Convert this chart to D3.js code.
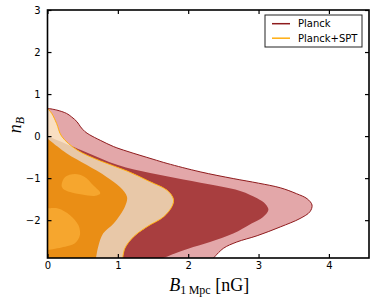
<!DOCTYPE html>
<html>
<head>
<meta charset="utf-8">
<script src="https://cdn.jsdelivr.net/npm/d3@7"></script>
<style>
  body { margin: 0; background: #fff; }
  svg { display: block; }
  .tick text { font-family: "DejaVu Sans", sans-serif; font-size: 10px; fill: #000; }
</style>
</head>
<body>
<svg id="chart" width="374" height="303"></svg>
<script>
// axis ranges and ticks
const xDomain = [0, 4.57];
const yDomain = [-2.9, 3];
const xTicks = [0, 1, 2, 3, 4];
const yTicks = [-2, -1, 0, 1, 2, 3];

// contour boundaries, [B, nB]
const planckOuter = [[0,0.66],[0.13,0.62],[0.27,0.54],[0.34,0.46],[0.42,0.34],[0.47,0.22],[0.53,0.11],[0.6,0.03],[0.75,-0.10],[0.94,-0.25],[1.13,-0.36],[1.5,-0.55],[1.70,-0.65],[2.17,-0.85],[2.64,-1.01],[3.0,-1.12],[3.31,-1.23],[3.54,-1.37],[3.69,-1.49],[3.76,-1.64],[3.73,-1.80],[3.59,-1.96],[3.31,-2.16],[2.98,-2.37],[2.69,-2.52],[2.50,-2.67],[2.36,-2.9]];
const planckInner = [[0,0.0],[0.5,-0.35],[1.0,-0.69],[1.46,-0.88],[1.93,-1.03],[2.41,-1.18],[2.75,-1.31],[2.98,-1.48],[3.10,-1.62],[3.14,-1.76],[3.06,-1.93],[2.90,-2.08],[2.64,-2.32],[2.31,-2.52],[2.0,-2.68],[1.8,-2.8],[1.65,-2.9]];
const sptOuter = [[0,0.66],[0.06,0.54],[0.13,0.30],[0.20,0.0],[0.42,-0.33],[0.75,-0.59],[1.13,-0.83],[1.45,-1.08],[1.70,-1.29],[1.79,-1.50],[1.77,-1.67],[1.65,-1.92],[1.41,-2.16],[1.22,-2.40],[1.10,-2.67],[1.07,-2.9]];
const sptInner = [[0,-0.06],[0.27,-0.41],[0.56,-0.69],[0.84,-0.97],[1.03,-1.21],[1.13,-1.44],[1.10,-1.68],[0.94,-2.08],[0.79,-2.32],[0.72,-2.64],[0.69,-2.9]];
const sptPeakUpper = [[0.20,-1.17],[0.25,-0.97],[0.39,-0.90],[0.53,-0.97],[0.65,-1.17],[0.75,-1.36],[0.68,-1.42],[0.49,-1.39],[0.32,-1.33],[0.22,-1.25]];
const sptPeakLower = [[0,-1.72],[0.15,-1.72],[0.32,-1.88],[0.44,-2.12],[0.46,-2.36],[0.39,-2.55],[0.20,-2.65],[0,-2.71]];

const series = ["Planck", "Planck+SPT"];
const lineColors = ["#8e1b1d", "#ffad10"];

const svg = d3.select("#chart");
const plot = { left: 47.5, right: 369, top: 10, bottom: 258 };

const x = d3.scaleLinear().domain(xDomain).range([plot.left, plot.right]);
const y = d3.scaleLinear().domain(yDomain).range([plot.bottom, plot.top]);

svg.append("clipPath").attr("id", "plotClip")
  .append("rect")
  .attr("x", plot.left).attr("y", plot.top)
  .attr("width", plot.right - plot.left).attr("height", plot.bottom - plot.top);

const curve = d3.line().x(d => x(d[0])).y(d => y(d[1])).curve(d3.curveCatmullRom.alpha(0.5));

// closes a boundary that starts on the left edge and ends on the bottom edge
function region(pts) {
  const last = pts[pts.length - 1];
  const tail = [[last[0], yDomain[0] - 0.2], [-0.2, yDomain[0] - 0.2], [-0.2, pts[0][1]]];
  return curve(pts) + tail.map(p => `L${x(p[0])},${y(p[1])}`).join("") + "Z";
}

const g = svg.append("g").attr("clip-path", "url(#plotClip)");

g.append("path").attr("d", region(planckOuter)).attr("fill", "#e3a7a9");
g.append("path").attr("d", region(planckInner)).attr("fill", "#a83e3f");
g.append("path").attr("d", curve(planckOuter)).attr("fill", "none")
  .attr("stroke", lineColors[0]).attr("stroke-width", 1);

// SPT outer: light where it lies over the Planck outer band, beige over the Planck core
svg.append("clipPath").attr("id", "sptClip")
  .append("path").attr("d", region(sptOuter));
g.append("path").attr("d", region(sptOuter)).attr("fill", "#f9dfc2");
g.append("g").attr("clip-path", "url(#sptClip)")
  .append("path").attr("d", region(planckInner)).attr("fill", "#e8c8a8");
g.append("path").attr("d", curve(sptOuter)).attr("fill", "none")
  .attr("stroke", lineColors[1]).attr("stroke-width", 1);

g.append("path").attr("d", region(sptInner)).attr("fill", "#ea8e15");

const blob = d3.line().x(d => x(d[0])).y(d => y(d[1])).curve(d3.curveCatmullRomClosed.alpha(0.5));
g.append("path").attr("d", blob(sptPeakUpper)).attr("fill", "#f6a62e");
g.append("path")
  .attr("d", curve(sptPeakLower) + `L${x(-0.2)},${y(-2.71)}L${x(-0.2)},${y(-1.72)}Z`)
  .attr("fill", "#f6a62e");

// axes, ticks pointing inward on all four sides
const fmt = d3.format("d");
svg.append("g").attr("transform", `translate(0,${plot.bottom})`)
  .call(d3.axisBottom(x).tickValues(xTicks).tickFormat(fmt).tickSize(-4).tickPadding(4));
svg.append("g").attr("transform", `translate(0,${plot.top})`)
  .call(d3.axisTop(x).tickValues(xTicks).tickFormat("").tickSize(-4));
svg.append("g").attr("transform", `translate(${plot.left},0)`)
  .call(d3.axisLeft(y).tickValues(yTicks).tickFormat(fmt).tickSize(-4).tickPadding(7));
svg.append("g").attr("transform", `translate(${plot.right},0)`)
  .call(d3.axisRight(y).tickValues(yTicks).tickFormat("").tickSize(-4));

svg.selectAll(".domain").remove();
svg.selectAll(".tick line").attr("stroke", "#000").attr("stroke-width", 1.2);

svg.append("rect")
  .attr("x", plot.left).attr("y", plot.top)
  .attr("width", plot.right - plot.left).attr("height", plot.bottom - plot.top)
  .attr("fill", "none").attr("stroke", "#000").attr("stroke-width", 1.6);

// axis labels
const xl = svg.append("text")
  .attr("x", (plot.left + plot.right) / 2 + 1).attr("y", 291)
  .attr("text-anchor", "middle")
  .style("font-family", "'Liberation Serif', serif").style("font-size", "18px");
xl.append("tspan").style("font-style", "italic").text("B");
xl.append("tspan").attr("dy", 3).style("font-size", "12px").text("1\u2009Mpc");
xl.append("tspan").attr("dy", -3).text(" [nG]");

const yl = svg.append("text")
  .attr("transform", "translate(21,125) rotate(-90)")
  .attr("text-anchor", "middle")
  .style("font-family", "'Liberation Serif', serif").style("font-size", "18px");
yl.append("tspan").style("font-style", "italic").text("n");
yl.append("tspan").attr("dy", 3).style("font-style", "italic").style("font-size", "12px").text("B");

// legend
const legend = svg.append("g");
legend.append("rect")
  .attr("x", 265).attr("y", 15).attr("width", 97).attr("height", 32)
  .attr("fill", "#fff").attr("stroke", "#222").attr("stroke-width", 1);
series.forEach((name, i) => {
  const ly = 23.7 + i * 14.5;
  legend.append("line")
    .attr("x1", 272).attr("x2", 290).attr("y1", ly).attr("y2", ly)
    .attr("stroke", lineColors[i]).attr("stroke-width", 1.5);
  legend.append("text")
    .attr("x", 298).attr("y", ly + 3.6)
    .style("font-family", "'DejaVu Sans', sans-serif").style("font-size", "10px")
    .text(name);
});
</script>
</body>
</html>
